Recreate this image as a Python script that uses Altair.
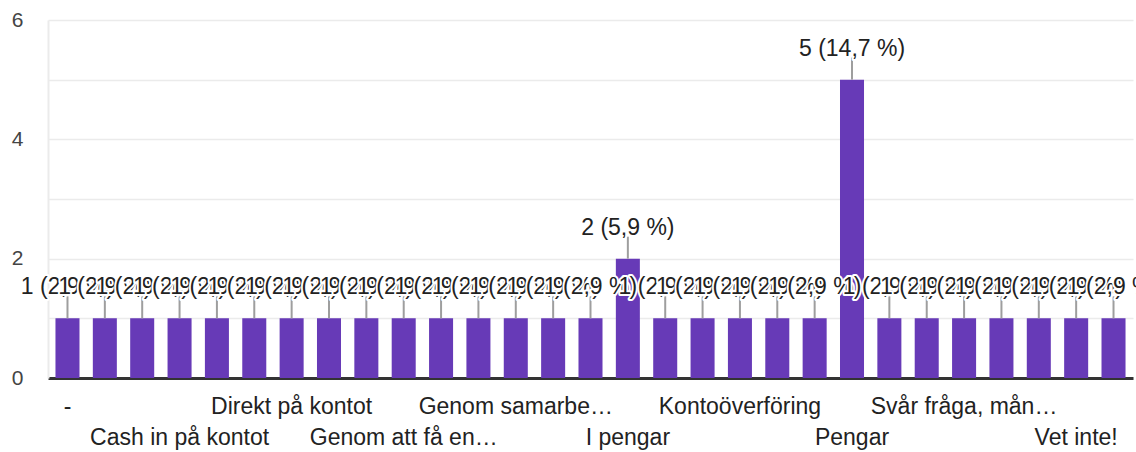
import altair as alt
import pandas as pd

# Answers (sorted as in the form summary) and number of responses for each
categories = [
    "-", "Banköverföring", "Betalning", "Cash in på kontot", "Checkar", "Digitalt",
    "Direkt på kontot", "Elektroniskt", "Genom appen", "Genom att få en faktura",
    "Genom banken", "Genom insättning", "Genom samarbete med banken", "Genom Swish",
    "I kontanter", "I pengar", "Insättning", "Kontant", "Kontoöverföring", "Med kort",
    "Med pengar", "Pengar", "Pengar på kontot", "Som lön", "Svår fråga, många sätt",
    "Swish", "Till kontot", "Vet inte!", "Vet ej",
]
counts = [1, 1, 1, 1, 1, 1, 1, 1, 1, 1, 1, 1, 1, 1, 1, 2, 1, 1, 1, 1, 1, 5, 1, 1, 1, 1, 1, 1, 1]

# Category labels printed under the axis (every third one, truncated, in two rows)
tick_labels = [
    "-", "", "", "Cash in på kontot", "", "", "Direkt på kontot", "", "",
    "Genom att få en…", "", "", "Genom samarbe…", "", "", "I pengar", "", "",
    "Kontoöverföring", "", "", "Pengar", "", "", "Svår fråga, mån…", "", "",
    "Vet inte!", "",
]
tick_rows = [(i // 3) % 2 for i in range(len(categories))]

total = sum(counts)
value_labels = [f"{c} ({c / total * 100:.1f} %)".replace(".", ",") for c in counts]

df = pd.DataFrame({
    "idx": list(range(len(categories))),
    "cat": categories,
    "count": counts,
    "label": value_labels,
    "tick": tick_labels,
    "row": tick_rows,
})

FONT = "Liberation Sans"
PURPLE = "#673ab7"
LABEL_SIZE = 23

x_enc = alt.X(
    "cat:N",
    sort=categories,
    scale=alt.Scale(paddingInner=0.357, paddingOuter=0.2),
    axis=alt.Axis(
        title=None, labels=False, ticks=False, grid=False,
        domainColor="#333333", domainWidth=3,
    ),
)
y_enc = alt.Y(
    "count:Q",
    scale=alt.Scale(domain=[0, 6], nice=False),
    axis=alt.Axis(
        title=None,
        values=[0, 1, 2, 3, 4, 5, 6],
        format="d",
        labelExpr="datum.value % 2 == 0 ? datum.label : ''",
        ticks=False, tickSize=0, labelPadding=25,
        labelFont=FONT, labelFontSize=21, labelColor="#444444",
        labelBaseline="middle",
        gridColor="#ebebeb", gridWidth=1.5,
        domainColor="#ebebeb", domainWidth=2,
    ),
)

base = alt.Chart(df).encode(x=x_enc)

bars = base.mark_bar(color=PURPLE).encode(y=y_enc)

leaders = base.mark_rule(color="#9e9e9e", strokeWidth=2, y2Offset=-22).encode(
    y=alt.Y("count:Q"), y2=alt.Y2("count")
)

# Value labels: each one drawn with its white halo, in order, so later labels
# sit on top of earlier ones
label_layers = []
for i in range(len(categories)):
    one = base.transform_filter(f"datum.idx == {i}")
    halo = one.mark_text(
        font=FONT, fontSize=LABEL_SIZE, baseline="middle", dy=-31,
        fill="white", stroke="white", strokeWidth=4, strokeJoin="round",
    ).encode(y=alt.Y("count:Q"), text="label:N")
    txt = one.mark_text(
        font=FONT, fontSize=LABEL_SIZE, baseline="middle", dy=-31, color="#222222",
    ).encode(y=alt.Y("count:Q"), text="label:N")
    label_layers += [halo, txt]

ticks_row0 = base.transform_filter("datum.tick != '' && datum.row == 0").mark_text(
    font=FONT, fontSize=LABEL_SIZE, baseline="middle", color="#222222"
).encode(y=alt.value(387), text="tick:N")
ticks_row1 = base.transform_filter("datum.tick != '' && datum.row == 1").mark_text(
    font=FONT, fontSize=LABEL_SIZE, baseline="middle", color="#222222"
).encode(y=alt.value(418), text="tick:N")

chart = alt.layer(bars, leaders, *label_layers, ticks_row0, ticks_row1).properties(
    width=1085,
    height=358,
    padding={"left": 48, "top": 20, "right": 3, "bottom": 74},
    autosize=alt.AutoSizeParams(type="none"),
).configure_view(stroke=None)

chart.save("out.html", embed_options={"renderer": "svg", "actions": False})
